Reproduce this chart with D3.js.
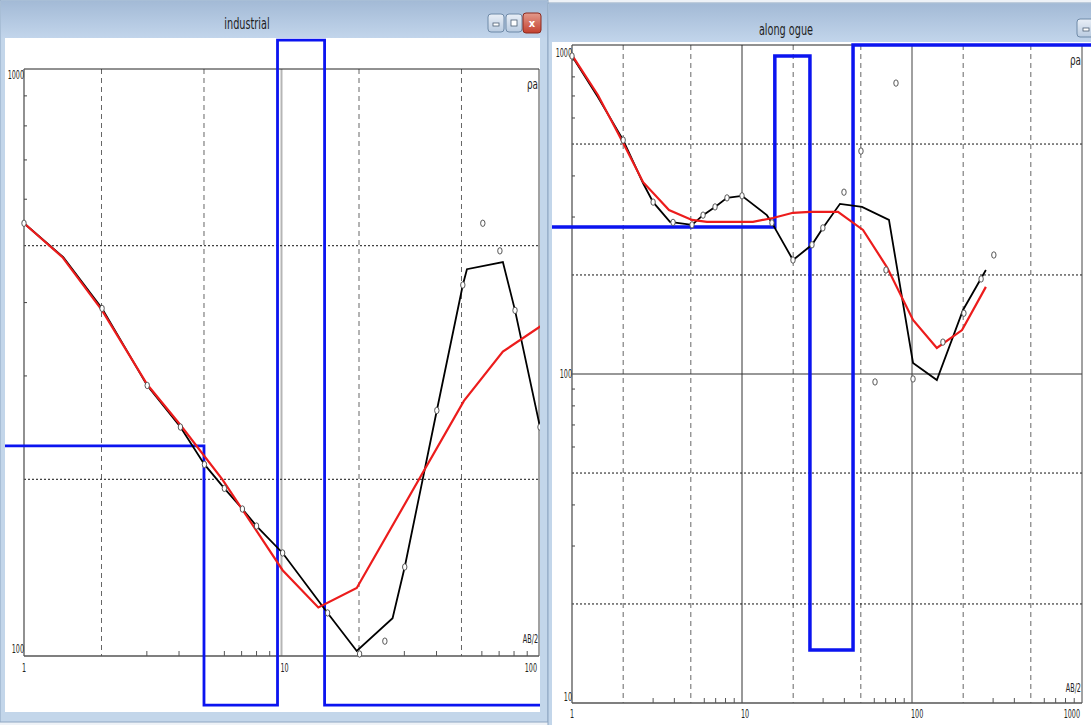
<!DOCTYPE html>
<html><head><meta charset="utf-8">
<script src="https://cdn.jsdelivr.net/npm/d3@7"></script>
<style>
body{margin:0;background:#eef2f7;}
svg{display:block;font-family:"Liberation Sans Narrow","DejaVu Sans Condensed","Liberation Sans",sans-serif;}
</style>
</head><body><svg id="c" width="1091" height="725"></svg>
<script>
// ---------- DATA: left window "industrial" ----------
const leftTitle = "industrial";
const leftCurveAB  = [1,1.42,2.01,3.01,4.05,5.02,6.0,7.05,8.0,10.1,15.1,19.6,27.0,30.1,40.1,50.6,52.5,72.4,80.7,100.9];
const leftCurveRho = [546,478,391,289,245.5,212,193,178,166.5,149.8,118.4,102,116,141.8,262,428.6,456,469,388,245.5];
const leftFitAB  = [1,1.41,2.01,3.01,4.05,5.89,10.1,13.9,19.6,51.1,72.4,101.8];
const leftFitRho = [546,478,388,290,247.5,200,140,121,130.6,272,330,365];
const leftObsAB  = [1,2.01,3.01,4.05,5.02,6.0,7.05,8.0,10.1,15.1,20.1,25.2,30.1,40.1,50.6,60.5,70.5,80.7,100.9];
const leftObsRho = [546,391,289,245.5,212,193,178,166.5,149.8,118.4,100.8,106,141.8,262,428.6,546,490,388,245.5];
const leftLayerDepth = [5.0,9.65,14.7];
const leftLayerRho   = [228,82.5,1120,82.5];
const leftXDomain = [1,100];
const leftYDomain = [100,1000];
const leftXLabels = ["1","10","100"];
const leftYLabels = ["1000","100"];
const leftDashedX = [2,5,20,50];
const leftSolidX  = [10];
const leftDottedY = [200,500];
const leftSolidY  = [];

// ---------- DATA: right window "along ogue" ----------
const rightTitle = "along ogue";
const rightCurveAB  = [1,1.42,2.0,2.62,3.0,3.77,5.08,5.9,6.94,8.16,10,14.0,15.0,19.95,25.8,29.9,37.7,50.8,73.2,101.4,140,199.6,272];
const rightCurveRho = [926,695,514,380,333,290,284,304,322,343,348,304,288,222,247,278,329,322,294,108,95.9,156.5,207];
const rightFitAB  = [1,1.42,2.0,2.62,3.72,5.08,6.22,11.6,15.2,19.95,25.1,36.7,51.5,71.3,101.4,140,197,272];
const rightFitRho = [932,705,504,383,315,294,290,290,298,309,311,311,274,211,146,120,136,184];
const rightObsAB  = [1,2.0,3.0,3.93,5.08,5.9,6.94,8.16,10,15.0,19.95,25.8,29.9,39.8,50.1,60.6,70.3,80.5,101.4,152,202,255,303];
const rightObsRho = [926,514,333,289,284,304,322,343,348,288,222,247,278,357,476,94.6,207,766,96.6,125,153,194.5,230];
const rightLayerDepth = [15.6,25.1,45.0];
const rightLayerRho   = [280,926,14.5,1000];
const rightXDomain = [1,1000];
const rightYDomain = [10,1000];
const rightXLabels = ["1","10","100","1000"];
const rightYLabels = ["1000","100","10"];
const rightDashedX = [2,5,20,50,200,500];
const rightSolidX  = [10,100];
const rightDottedY = [20,50,200,500];
const rightSolidY  = [100];

const svg = d3.select("#c");
const defs = svg.append("defs");
const tg = defs.append("linearGradient").attr("id","tbar").attr("x1",0).attr("y1",0).attr("x2",0).attr("y2",1);
tg.append("stop").attr("offset","0%").attr("stop-color","#a3bad6");
tg.append("stop").attr("offset","100%").attr("stop-color","#c2d5eb");
const bg = defs.append("linearGradient").attr("id","btn").attr("x1",0).attr("y1",0).attr("x2",0).attr("y2",1);
bg.append("stop").attr("offset","0%").attr("stop-color","#e9eff7");
bg.append("stop").attr("offset","100%").attr("stop-color","#b9cbe0");
const rg = defs.append("linearGradient").attr("id","close").attr("x1",0).attr("y1",0).attr("x2",0).attr("y2",1);
rg.append("stop").attr("offset","0%").attr("stop-color","#e39a8c");
rg.append("stop").attr("offset","100%").attr("stop-color","#c4402f");

// condensed text: horizontal scale about the anchor point
function ntext(parent, x, y, str, size, f, anchor){
  return parent.append("text").attr("x",x).attr("y",y).attr("font-size",size)
    .attr("text-anchor",anchor||"start")
    .attr("transform",`translate(${x},0) scale(${f},1) translate(${-x},0)`).text(str);
}

function windowFrame(w){
  const g = svg.append("g");
  g.append("rect").attr("x",w.x0).attr("y",w.y0).attr("width",w.x1-w.x0).attr("height",w.y1-w.y0)
    .attr("fill","#c3d6ea").attr("stroke","#8ea6c2").attr("stroke-width",1);
  g.append("rect").attr("x",w.x0+1).attr("y",w.y0+1).attr("width",w.x1-w.x0-2).attr("height",w.tb-w.y0-1)
    .attr("fill","url(#tbar)");
  g.append("rect").attr("x",w.cx0).attr("y",w.tb).attr("width",w.cx1-w.cx0).attr("height",w.cy1-w.tb)
    .attr("fill","#ffffff");
  ntext(g, w.tx, w.ty, w.title, 15, 0.72, "middle").attr("fill","#1e1e1e");
  w.buttons.forEach(b=>{
    g.append("rect").attr("x",b.x).attr("y",b.y).attr("width",b.w).attr("height",b.h).attr("rx",3)
      .attr("fill", b.close ? "url(#close)" : "url(#btn)").attr("stroke", b.close ? "#8c2a1e" : "#6f8aa8");
    if(b.close){
      g.append("text").attr("x",b.x+b.w/2).attr("y",b.y+b.h/2+4).attr("text-anchor","middle")
        .attr("font-size",11).attr("font-weight","bold").attr("fill","#fff").text("x");
    } else if(b.kind==="min"){
      g.append("rect").attr("x",b.x+b.w/2-3).attr("y",b.y+b.h/2).attr("width",6).attr("height",3)
        .attr("fill","#fff").attr("stroke","#4d5f74").attr("stroke-width",0.8);
    } else {
      g.append("rect").attr("x",b.x+b.w/2-3).attr("y",b.y+b.h/2-3).attr("width",6).attr("height",6)
        .attr("fill","#fff").attr("stroke","#4d5f74").attr("stroke-width",0.8);
    }
  });
}

function panel(p){
  const g = svg.append("g");
  const clipId = "clip"+p.id;
  defs.append("clipPath").attr("id",clipId).append("rect")
    .attr("x",p.clip[0]).attr("y",p.clip[1]).attr("width",p.clip[2]).attr("height",p.clip[3]);
  const x = d3.scaleLog().domain(p.xDomain).range(p.xRange);
  const y = d3.scaleLog().domain(p.yDomain).range(p.yRange);
  const [X0,X1] = p.xRange, [Y0,Y1] = p.yRange; // Y0 bottom, Y1 top

  // grid
  p.dashedX.forEach(v=> g.append("line").attr("x1",x(v)).attr("x2",x(v)).attr("y1",Y1).attr("y2",Y0)
    .attr("stroke","#666").attr("stroke-width",1).attr("stroke-dasharray","5,4"));
  p.solidX.forEach((v,i)=> g.append("line").attr("x1",x(v)).attr("x2",x(v)).attr("y1",Y1).attr("y2",Y0)
    .attr("stroke", p.solidXColor[i]).attr("stroke-width",p.solidXWidth[i]));
  p.dottedY.forEach(v=> g.append("line").attr("x1",X0).attr("x2",X1).attr("y1",y(v)).attr("y2",y(v))
    .attr("stroke","#111").attr("stroke-width",1).attr("stroke-dasharray","2,2"));
  p.solidY.forEach(v=> g.append("line").attr("x1",X0).attr("x2",X1).attr("y1",y(v)).attr("y2",y(v))
    .attr("stroke","#333").attr("stroke-width",1.2));

  // frame
  g.append("line").attr("x1",X0).attr("x2",X1).attr("y1",Y1).attr("y2",Y1).attr("stroke","#222").attr("stroke-width",1);
  g.append("line").attr("x1",X1).attr("x2",X1).attr("y1",Y1).attr("y2",Y0).attr("stroke","#444").attr("stroke-width",1);
  g.append("line").attr("x1",X0).attr("x2",X0).attr("y1",Y1).attr("y2",Y0).attr("stroke","#555").attr("stroke-width",1.3);
  g.append("line").attr("x1",X0).attr("x2",X1).attr("y1",Y0).attr("y2",Y0).attr("stroke","#555").attr("stroke-width",1.6);

  // minor ticks
  const xMinor = [], yMinor = [];
  for(let d=p.xDomain[0]; d<p.xDomain[1]; d*=10) [3,4,6,7,8,9].forEach(k=>xMinor.push(d*k));
  for(let d=p.yDomain[0]; d<p.yDomain[1]; d*=10) [2,3,4,5,6,7,8,9].forEach(k=>{ if(!p.dottedY.includes(d*k)) yMinor.push(d*k); });
  xMinor.forEach(v=> g.append("line").attr("x1",x(v)).attr("x2",x(v)).attr("y1",Y0).attr("y2",Y0-5).attr("stroke","#555"));
  yMinor.forEach(v=> g.append("line").attr("x1",X0).attr("x2",X0+3).attr("y1",y(v)).attr("y2",y(v)).attr("stroke","#444"));

  // labels
  const lab = g.append("g").attr("fill","#222");
  p.xLabels.forEach((t,i)=>{
    const v = +t, last = i===p.xLabels.length-1, first = i===0;
    ntext(lab, last ? X1-2 : (first ? x(v) : x(v)-1), Y0+p.xLabDy, t, 13, 0.55,
      last ? "end" : (first ? "middle" : "start"));
  });
  p.yLabels.forEach((t,i)=> ntext(lab, X0, y(+t)+p.yLabDy[i], t, 13, 0.55, "end"));
  ntext(lab, X1-1, Y0-p.abDy, "AB/2", 12, 0.6, "end");
  ntext(lab, X1-1, Y1+p.rhoDy, "ρa", 14, 0.7, "end");

  const cg = g.append("g").attr("clip-path",`url(#${clipId})`);
  // layered model (blue step line)
  const pts = [];
  const lo = p.xDomain[0]/20, hi = p.xDomain[1]*20;
  pts.push([lo, p.layerRho[0]]);
  p.layerDepth.forEach((d,i)=>{ pts.push([d,p.layerRho[i]]); pts.push([d,p.layerRho[i+1]]); });
  pts.push([hi, p.layerRho[p.layerRho.length-1]]);
  const line = d3.line().x(d=>x(d[0])).y(d=>y(d[1]));
  cg.append("path").attr("d",line(pts)).attr("fill","none").attr("stroke","#0b14f0")
    .attr("stroke-width",p.blueW).attr("stroke-linejoin","miter");

  // observed/smoothed curve (black)
  const curve = p.curveAB.map((a,i)=>[a,p.curveRho[i]]);
  cg.append("path").attr("d",line(curve)).attr("fill","none").attr("stroke","#000").attr("stroke-width",1.8);
  // fitted curve (red)
  const fit = p.fitAB.map((a,i)=>[a,p.fitRho[i]]);
  cg.append("path").attr("d",line(fit)).attr("fill","none").attr("stroke","#ec1c1c").attr("stroke-width",2.2);
  // measured points
  cg.selectAll(null).data(p.obsAB.map((a,i)=>[a,p.obsRho[i]])).join("ellipse")
    .attr("cx",d=>x(d[0])).attr("cy",d=>y(d[1])).attr("rx",2.2).attr("ry",3.2)
    .attr("fill","#fff").attr("stroke","#444").attr("stroke-width",0.9);
}

// windows
windowFrame({x0:0,y0:0,x1:548,y1:722,tb:38,cx0:5,cx1:540,cy1:712,title:leftTitle,tx:247,ty:29,
  buttons:[{x:488,y:14,w:16,h:18,kind:"min"},{x:506,y:14,w:16,h:18,kind:"max"},{x:523,y:13,w:18,h:20,close:true}]});
windowFrame({x0:548,y0:3,x1:1095,y1:729,tb:42,cx0:552,cx1:1095,cy1:729,title:rightTitle,tx:786,ty:35,
  buttons:[{x:1077,y:19,w:18,h:18,kind:"min"}]});

panel({id:"L", xDomain:leftXDomain, yDomain:leftYDomain, xRange:[24,539], yRange:[656,69],
  clip:[5,38,535,674], dashedX:leftDashedX, solidX:leftSolidX, solidXColor:["#b5b5b5"], solidXWidth:[2],
  dottedY:leftDottedY, solidY:leftSolidY, xLabels:leftXLabels, yLabels:leftYLabels, yLabDy:[10,-3],
  xLabDy:16, abDy:13, rhoDy:20, layerDepth:leftLayerDepth, layerRho:leftLayerRho, blueW:2.8,
  curveAB:leftCurveAB, curveRho:leftCurveRho, fitAB:leftFitAB, fitRho:leftFitRho, obsAB:leftObsAB, obsRho:leftObsRho});

panel({id:"R", xDomain:rightXDomain, yDomain:rightYDomain, xRange:[572,1082], yRange:[703,45],
  clip:[552,42,539,683], dashedX:rightDashedX, solidX:rightSolidX, solidXColor:["#333","#a0a0a0"], solidXWidth:[1,2],
  dottedY:rightDottedY, solidY:rightSolidY, xLabels:rightXLabels, yLabels:rightYLabels, yLabDy:[12,4,-2],
  xLabDy:15, abDy:11, rhoDy:20, layerDepth:rightLayerDepth, layerRho:rightLayerRho, blueW:3.5,
  curveAB:rightCurveAB, curveRho:rightCurveRho, fitAB:rightFitAB, fitRho:rightFitRho, obsAB:rightObsAB, obsRho:rightObsRho});
</script>
</body></html>
